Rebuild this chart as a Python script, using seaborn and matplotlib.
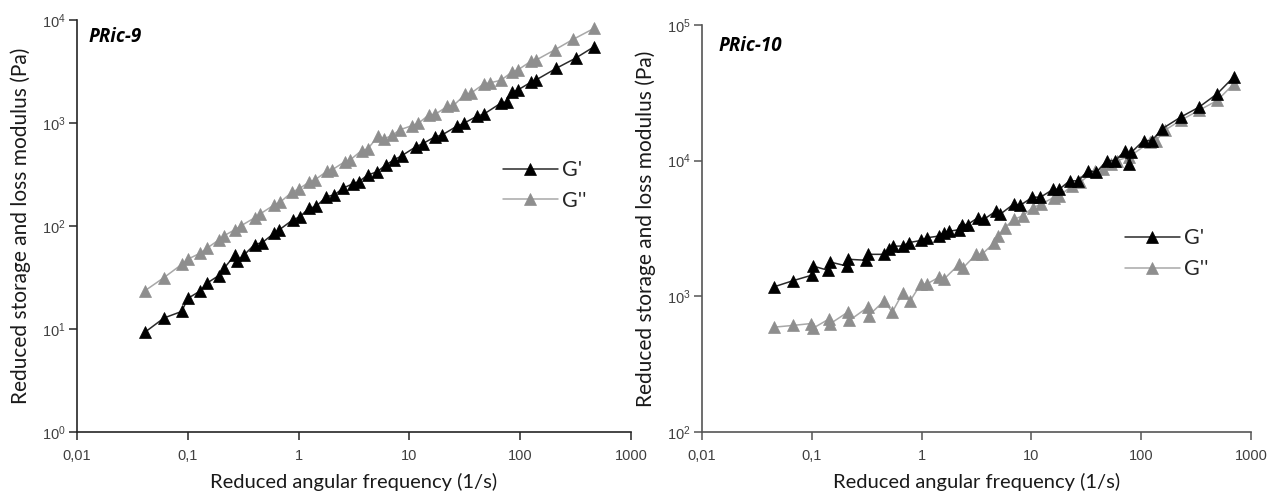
import numpy as np
import pandas as pd
import matplotlib
matplotlib.use('Agg')
import matplotlib.pyplot as plt
import matplotlib.ticker as mticker
import seaborn as sns

# ---------------------------------------------------------
# Data (values in Pa, frequency in 1/s)
# ---------------------------------------------------------
# PRic-9
freq9_g1 = [0.041, 0.061, 0.088, 0.100, 0.130, 0.150, 0.190, 0.213, 0.265, 0.280,
            0.320, 0.400, 0.470, 0.600, 0.670, 0.890, 1.03, 1.23, 1.44, 1.78,
            2.10, 2.50, 3.10, 3.50, 4.20, 5.10, 6.10, 7.20, 8.50, 11.5,
            13.2, 17.0, 19.5, 27.0, 31.0, 41.0, 47.0, 67.0, 76.0, 85.0,
            95.0, 126, 140, 212, 316, 464]
g1_pric9 = [9.3, 12.8, 14.8, 19.8, 23.5, 28, 33, 39, 52, 46,
            52, 66, 69, 85, 92, 115, 123, 148, 155, 193,
            200, 232, 258, 270, 312, 336, 390, 437, 480, 590,
            630, 735, 760, 935, 993, 1170, 1220, 1560, 1610, 2000,
            2090, 2500, 2630, 3400, 4260, 5500]

freq9_g2 = [0.041, 0.061, 0.089, 0.100, 0.130, 0.149, 0.192, 0.213, 0.265, 0.300,
            0.400, 0.450, 0.600, 0.680, 0.880, 1.00, 1.25, 1.40, 1.80, 2.00,
            2.60, 2.90, 3.70, 4.20, 5.20, 5.90, 7.00, 8.20, 10.5, 12.0,
            15.0, 17.0, 22.0, 25.0, 32.0, 36.0, 47.0, 53.0, 67.0, 85.0,
            95.0, 126, 140, 205, 299, 464]
g2_pric9 = [23.5, 31.6, 42.7, 47.6, 54.6, 61, 73.6, 80.5, 92, 100,
            120, 131, 160, 170, 215, 228, 268, 280, 340, 350,
            420, 435, 540, 560, 740, 700, 760, 860, 940, 990,
            1200, 1210, 1450, 1480, 1900, 1950, 2400, 2450, 2600, 3150,
            3270, 4000, 4100, 5130, 6470, 8300]

# PRic-10
freq10_g1 = [0.0457, 0.067, 0.100, 0.102, 0.140, 0.145, 0.210, 0.214, 0.310, 0.324,
             0.457, 0.500, 0.550, 0.680, 0.760, 0.980, 1.11, 1.43, 1.60, 1.78,
             2.20, 2.31, 2.62, 3.26, 3.70, 4.80, 5.20, 6.90, 7.90, 10.2,
             12.1, 15.8, 17.9, 22.3, 26.5, 32.9, 39.1, 48.6, 57.8, 71.7,
             78.0, 81.5, 105, 125, 155, 228, 336, 494, 700]
g1_pric10 = [1178, 1302, 1432, 1676, 1556, 1795, 1670, 1876, 1845, 2040,
             2040, 2220, 2340, 2350, 2485, 2580, 2700, 2780, 2950, 3020,
             3100, 3380, 3380, 3800, 3700, 4270, 4030, 4790, 4680, 5380,
             5380, 6150, 6150, 7100, 7100, 8440, 8240, 10000, 10000, 11850,
             9440, 11530, 14060, 14060, 17170, 20900, 24800, 31200, 41600]

freq10_g2 = [0.0457, 0.067, 0.098, 0.103, 0.144, 0.148, 0.212, 0.220, 0.324, 0.330,
             0.457, 0.540, 0.670, 0.790, 0.980, 1.11, 1.43, 1.60, 2.20, 2.40,
             3.14, 3.54, 4.60, 5.00, 5.70, 7.00, 8.30, 10.3, 12.3, 15.9,
             18.0, 23.4, 27.8, 37.6, 44.6, 53.0, 60.0, 78.0, 120, 136,
             165, 228, 336, 494, 700]
g2_pric10 = [593, 610, 630, 583, 682, 630, 764, 664, 832, 722,
             929, 764, 1052, 929, 1230, 1230, 1380, 1340, 1725, 1630,
             2040, 2040, 2485, 2800, 3210, 3700, 3920, 4510, 4780, 5350,
             5500, 6530, 6920, 8440, 8680, 9440, 10000, 10700, 13700, 14060,
             16800, 19800, 23500, 27800, 37000]

x_ticks = [0.01, 0.1, 1, 10, 100, 1000]
x_tick_labels = ['0,01', '0,1', '1', '10', '100', '1000']

# ---------------------------------------------------------
# Style
# ---------------------------------------------------------
sns.set_style('white')
plt.rcParams['font.family'] = ['Liberation Sans', 'DejaVu Sans']
plt.rcParams['mathtext.default'] = 'regular'

fig = plt.figure(figsize=(12.77, 5), dpi=100)
fig.patch.set_facecolor('white')
ax1 = fig.add_axes([77 / 1277, 68 / 500, 554 / 1277, 412 / 500])
ax2 = fig.add_axes([702 / 1277, 68 / 500, 549 / 1277, 407 / 500])


def draw_panel(ax, f1, g1, f2, g2, ylim, title, title_xy, leg_xy, spine_col):
    df1 = pd.DataFrame({'freq': f1, 'mod': g1})
    df2 = pd.DataFrame({'freq': f2, 'mod': g2})
    sns.lineplot(data=df2, x='freq', y='mod', ax=ax, estimator=None, sort=False,
                 color='#a8a8a8', lw=1.1, marker='^', markersize=8,
                 markerfacecolor='#8e8e8e', markeredgecolor='#8e8e8e',
                 markeredgewidth=0.5, label="G''", zorder=2)
    sns.lineplot(data=df1, x='freq', y='mod', ax=ax, estimator=None, sort=False,
                 color='#2a2a2a', lw=1.1, marker='^', markersize=8,
                 markerfacecolor='black', markeredgecolor='black',
                 markeredgewidth=0.5, label="G'", zorder=3)

    ax.set_xscale('log')
    ax.set_yscale('log')
    ax.set_xlim(0.01, 1000)
    ax.set_ylim(*ylim)
    ax.xaxis.set_major_locator(mticker.FixedLocator(x_ticks))
    ax.xaxis.set_major_formatter(mticker.FixedFormatter(x_tick_labels))
    ax.xaxis.set_minor_locator(mticker.NullLocator())
    ax.yaxis.set_major_locator(mticker.LogLocator(base=10, numticks=10))
    ax.yaxis.set_minor_locator(mticker.NullLocator())

    for s in ['top', 'right']:
        ax.spines[s].set_visible(False)
    for s in ['left', 'bottom']:
        ax.spines[s].set_color(spine_col)
        ax.spines[s].set_linewidth(1.2)

    ax.tick_params(axis='both', which='major', direction='out', length=6, width=1.1,
                   color=spine_col, labelcolor='#404040', labelsize=10.5)
    ax.tick_params(axis='x', pad=6, bottom=True)
    ax.tick_params(axis='y', pad=2, left=True)

    ax.set_xlabel('Reduced angular frequency (1/s)',
                  family=['Lato', 'DejaVu Sans'], size=14.5, color='#1a1a1a')
    ax.set_ylabel('Reduced storage and loss modulus (Pa)',
                  family=['Lato', 'DejaVu Sans'], size=15, color='#1a1a1a')

    ax.text(title_xy[0], title_xy[1], title, transform=ax.transAxes,
            fontsize=13.5, fontweight='bold', fontstyle='italic',
            family=['Open Sans', 'DejaVu Sans'], color='black', va='center', ha='left')

    handles, labels = ax.get_legend_handles_labels()
    order = [labels.index("G'"), labels.index("G''")]
    ax.legend([handles[i] for i in order], [labels[i] for i in order],
              loc='upper left', bbox_to_anchor=leg_xy, frameon=False,
              prop={'family': ['Lato', 'DejaVu Sans'], 'size': 15.5},
              handlelength=2.55, handletextpad=0.2, borderpad=0, borderaxespad=0,
              labelspacing=0.5)


draw_panel(ax1, freq9_g1, g1_pric9, freq9_g2, g2_pric9, (1, 1e4), 'PRic-9',
           (0.02, 0.959), (0.769, 0.66), '#262626')
draw_panel(ax2, freq10_g1, g1_pric10, freq10_g2, g2_pric10, (100, 1e5), 'PRic-10',
           (0.03, 0.948), (0.770, 0.50), '#555555')

ax1.xaxis.set_label_coords(0.5, -0.1)
ax2.xaxis.set_label_coords(0.5, -0.101)
ax1.yaxis.set_label_coords(-0.083, 0.5)
ax2.yaxis.set_label_coords(-0.084, 0.5)

plt.savefig('out.png', dpi=100, facecolor='white')
plt.close()
